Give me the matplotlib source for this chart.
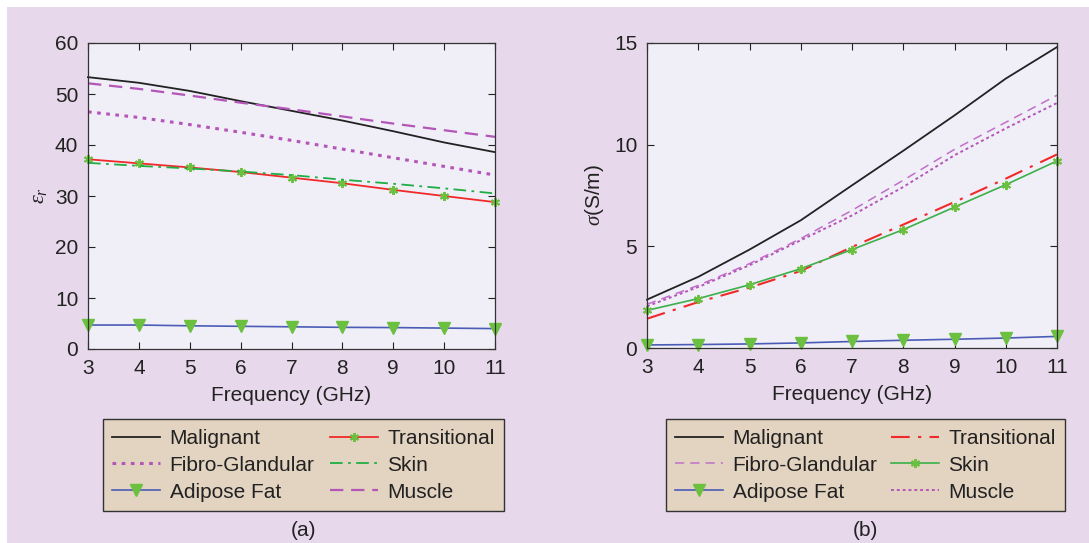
import matplotlib
matplotlib.use("Agg")
import matplotlib.pyplot as plt
from matplotlib.patches import Rectangle
from matplotlib.lines import Line2D

plt.rcParams['font.family'] = ['Liberation Sans', 'DejaVu Sans']
plt.rcParams['mathtext.fontset'] = 'custom'
plt.rcParams['mathtext.it'] = 'Liberation Serif:italic'

freq = [3, 4, 5, 6, 7, 8, 9, 10, 11]
xticks = [3, 4, 5, 6, 7, 8, 9, 10, 11]

# (a) relative permittivity
eps_malignant = [53.3, 52.2, 50.6, 48.6, 46.7, 44.8, 42.7, 40.5, 38.6]
eps_fibro = [46.5, 45.4, 44.0, 42.5, 40.9, 39.2, 37.5, 35.8, 34.1]
eps_adipose = [4.7, 4.7, 4.55, 4.45, 4.35, 4.25, 4.2, 4.1, 4.0]
eps_transitional = [37.2, 36.4, 35.6, 34.7, 33.6, 32.5, 31.2, 30.0, 28.8]
eps_skin = [36.5, 35.9, 35.4, 34.8, 34.1, 33.2, 32.4, 31.5, 30.5]
eps_muscle = [52.1, 51.0, 49.7, 48.3, 47.0, 45.6, 44.2, 42.9, 41.6]

# (b) conductivity
sig_malignant = [2.38, 3.5, 4.84, 6.28, 8.0, 9.7, 11.44, 13.25, 14.8]
sig_fibro = [2.15, 3.08, 4.15, 5.38, 6.77, 8.25, 9.77, 11.1, 12.43]
sig_adipose = [0.15, 0.17, 0.2, 0.25, 0.32, 0.38, 0.43, 0.49, 0.57]
sig_transitional = [1.44, 2.26, 2.97, 3.79, 4.97, 6.07, 7.18, 8.33, 9.52]
sig_skin = [1.85, 2.43, 3.11, 3.9, 4.84, 5.82, 6.93, 8.03, 9.2]
sig_muscle = [2.05, 3.0, 4.07, 5.3, 6.52, 7.92, 9.48, 10.8, 12.05]

labels = ["Malignant", "Fibro-Glandular", "Adipose Fat", "Transitional", "Skin", "Muscle"]

W, H = 1089, 543
FS = 15
fig = plt.figure(figsize=(W / 100, H / 100), dpi=100)
fig.patch.set_facecolor('white')
fig.patches.append(Rectangle((7 / W, 0), 1 - 7 / W, 1 - 7 / H, transform=fig.transFigure,
                             facecolor='#e7d9eb', edgecolor='none', zorder=-10))

ax_face = '#f0eef7'
green_mk = '#6cc040'
purple = '#b455b8'

def style_axes(ax):
    ax.set_facecolor(ax_face)
    ax.set_xlim(3, 11)
    ax.set_xticks(xticks)
    ax.tick_params(direction='in', top=True, right=True, labelsize=FS, length=5, width=0.8,
                   colors='#222222', pad=7)
    for s in ax.spines.values():
        s.set_linewidth(0.9)
        s.set_color('#333333')
    ax.set_xlabel("Frequency (GHz)", fontsize=FS, color='#222222', labelpad=6)

# ---------- (a) ----------
axa = fig.add_axes([88 / W, 1 - 349 / H, (495 - 88) / W, (349 - 43) / H])
la1, = axa.plot(freq, eps_malignant, color='#222222', lw=1.3)
la2, = axa.plot(freq, eps_fibro, color=purple, lw=2.2, linestyle=(0, (1.2, 1.8)))
la3, = axa.plot(freq, eps_adipose, color='#4a5cb5', lw=1.2, marker='v', markersize=8,
                markerfacecolor=green_mk, markeredgecolor=green_mk)
la4, = axa.plot(freq, eps_transitional, color='#f02a2a', lw=1.3, marker=(6, 2, 0), markersize=6.5,
                markeredgecolor=green_mk, markeredgewidth=1.4)
la5, = axa.plot(freq, eps_skin, color='#1fae45', lw=1.3, linestyle=(0, (7, 3, 1.5, 3)))
la6, = axa.plot(freq, eps_muscle, color=purple, lw=1.6, linestyle=(0, (6, 3.5)))
for l in (la1, la2, la3, la4, la5, la6):
    l.set_clip_on(False)
style_axes(axa)
axa.set_ylim(0, 60)
axa.set_yticks([0, 10, 20, 30, 40, 50, 60])
axa.set_ylabel(r"$\varepsilon_r$", fontsize=16, color='#222222', labelpad=4)

# ---------- (b) ----------
axb = fig.add_axes([647 / W, 1 - 348 / H, (1057 - 647) / W, (348 - 43) / H])
lb1, = axb.plot(freq, sig_malignant, color='#222222', lw=1.3)
lb2, = axb.plot(freq, sig_fibro, color='#c070c8', lw=1.1, linestyle=(0, (6, 4)))
lb3, = axb.plot(freq, sig_adipose, color='#4a5cb5', lw=1.2, marker='v', markersize=8,
                markerfacecolor=green_mk, markeredgecolor=green_mk)
lb4, = axb.plot(freq, sig_transitional, color='#f02a2a', lw=1.5, linestyle=(0, (9, 4, 1.5, 4)))
lb5, = axb.plot(freq, sig_skin, color='#3cb04a', lw=1.2, marker=(6, 2, 0), markersize=6.5,
                markeredgecolor=green_mk, markeredgewidth=1.4)
lb6, = axb.plot(freq, sig_muscle, color=purple, lw=1.4, linestyle=(0, (1.5, 1.5)))
for l in (lb1, lb2, lb3, lb4, lb5, lb6):
    l.set_clip_on(False)
style_axes(axb)
axb.set_ylim(0, 15)
axb.set_yticks([0, 5, 10, 15])
axb.set_ylabel(r"$\sigma$(S/m)", fontsize=FS, color='#222222', labelpad=6)

def make_legend(ax, handles, x0, x1):
    leg = ax.legend(handles, labels, ncol=2, loc='lower left',
                    bbox_to_anchor=(x0 / W, 1 - 511 / H, (x1 - x0) / W, (511 - 421) / H),
                    bbox_transform=fig.transFigure, mode='expand', fontsize=FS,
                    frameon=True, fancybox=False, handlelength=2.3, handletextpad=0.45,
                    labelspacing=0.38, borderpad=0.45, columnspacing=0.6, borderaxespad=0)
    fr = leg.get_frame()
    fr.set_facecolor('#e3d3c1')
    fr.set_edgecolor('#333333')
    fr.set_linewidth(1.0)
    fr.set_alpha(1)
    for t in leg.get_texts():
        t.set_color('#222222')
    return leg

make_legend(axa, [la1, la2, la3, la4, la5, la6], 103, 504)
make_legend(axb, [lb1, lb2, lb3, lb4, lb5, lb6], 666, 1065)

fig.text(303 / W, 1 - 530 / H, "(a)", ha='center', va='center', fontsize=FS, color='#222222')
fig.text(865 / W, 1 - 530 / H, "(b)", ha='center', va='center', fontsize=FS, color='#222222')

fig.savefig("out.png", dpi=100, facecolor=fig.get_facecolor())
